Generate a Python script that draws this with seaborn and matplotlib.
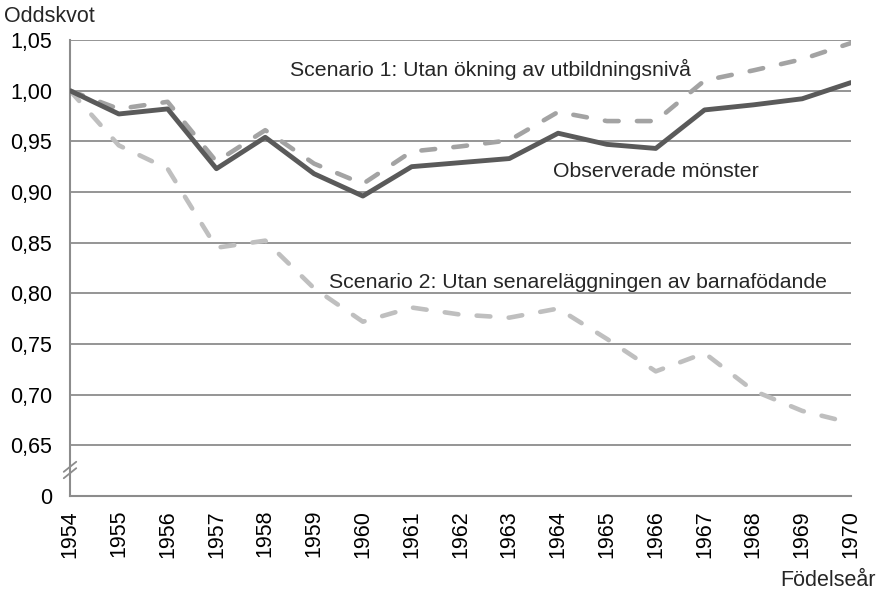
import matplotlib
matplotlib.use("Agg")
import matplotlib.pyplot as plt
import pandas as pd
import seaborn as sns

years = list(range(1954, 1971))

observed = [1.000, 0.977, 0.982, 0.923, 0.954, 0.918, 0.896, 0.925, 0.929,
            0.933, 0.958, 0.947, 0.943, 0.981, 0.986, 0.992, 1.008]
scenario1 = [1.000, 0.982, 0.989, 0.930, 0.961, 0.928, 0.908, 0.940, 0.945,
             0.951, 0.979, 0.970, 0.970, 1.010, 1.020, 1.031, 1.047]
scenario2 = [1.000, 0.946, 0.923, 0.845, 0.852, 0.805, 0.772, 0.786, 0.779,
             0.776, 0.785, 0.755, 0.723, 0.741, 0.704, 0.684, 0.672]

y_ticks = [0.60, 0.65, 0.70, 0.75, 0.80, 0.85, 0.90, 0.95, 1.00, 1.05]
y_labels = ["0", "0,65", "0,70", "0,75", "0,80", "0,85", "0,90", "0,95", "1,00", "1,05"]


def main():
    df = pd.DataFrame({"year": years, "observed": observed,
                       "scenario1": scenario1, "scenario2": scenario2})

    sns.set_theme(style="white")
    plt.rcParams["font.family"] = ["Liberation Sans", "DejaVu Sans"]

    fig = plt.figure(figsize=(8.81, 5.92), dpi=100)
    ax = fig.add_axes([70 / 881, 1 - 496 / 592, 781 / 881, 456 / 592])

    grid_col = "#8c8c8c"
    for t in y_ticks[1:]:
        ax.axhline(t, color=grid_col, lw=1.3, zorder=0)

    # scenario lines first, observed on top
    dash = (0, (3, 4))
    sns.lineplot(data=df, x="year", y="scenario2", ax=ax, color="#bfbfbf",
                 lw=3.3, linestyle=dash, dash_capstyle="round", zorder=2)
    sns.lineplot(data=df, x="year", y="scenario1", ax=ax, color="#a3a3a3",
                 lw=3.3, linestyle=dash, dash_capstyle="round", zorder=3)
    sns.lineplot(data=df, x="year", y="observed", ax=ax, color="#5a5a5a",
                 lw=3.5, zorder=4)

    ax.set_xlim(1954, 1970)
    ax.set_ylim(0.60, 1.05)
    ax.set_xticks(years)
    ax.set_xticklabels([str(y) for y in years], rotation=90, fontsize=15.5)
    ax.set_yticks(y_ticks)
    ax.set_yticklabels(y_labels, fontsize=15.5)
    ax.set_xlabel("")
    ax.set_ylabel("")

    for side in ["top", "right"]:
        ax.spines[side].set_visible(False)
    for side in ["left", "bottom"]:
        ax.spines[side].set_color(grid_col)
        ax.spines[side].set_linewidth(1.5)
    ax.tick_params(axis="both", direction="out", length=6, width=1.3,
                   color=grid_col, labelcolor="black")
    ax.tick_params(axis="y", pad=7)
    ax.tick_params(axis="x", pad=4)

    # axis break marks on the y axis
    for dy in (-0.007, 0.007):
        ax.plot([-0.008, 0.008], [0.057 + dy - 0.011, 0.057 + dy + 0.011],
                transform=ax.transAxes, color=grid_col, lw=1.3, clip_on=False)

    # line labels
    ax.text(1958.5, 1.021, "Scenario 1: Utan ökning av utbildningsnivå",
            fontsize=15.3, va="center")
    ax.text(1963.9, 0.920, "Observerade mönster", fontsize=15.3, va="center")
    ax.text(1959.3, 0.811, "Scenario 2: Utan senareläggningen av barnafödande",
            fontsize=15.3, va="center")

    fig.text(4 / 881, 1 - 16 / 592, "Oddskvot", fontsize=15.5, va="center")
    fig.text(876 / 881, 1 - 581 / 592, "Födelseår", fontsize=15.5,
             va="center", ha="right")

    fig.savefig("out.png", dpi=100)


if __name__ == "__main__":
    main()
